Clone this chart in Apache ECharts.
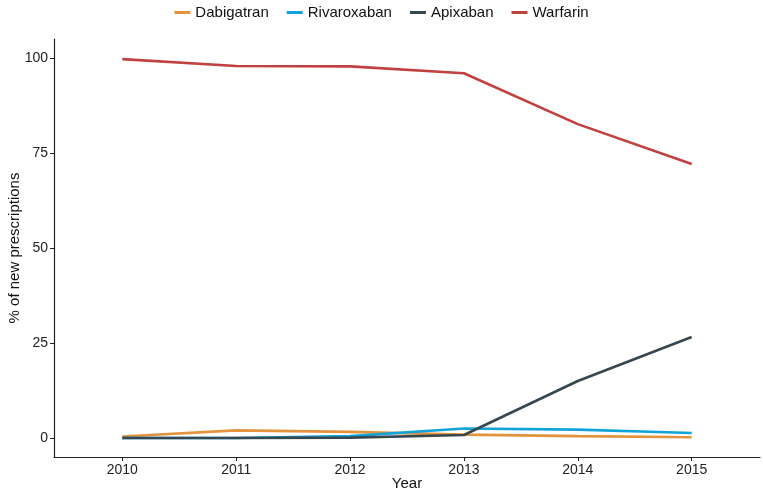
<!DOCTYPE html>
<html><head><meta charset="utf-8">
<script src="https://cdn.jsdelivr.net/npm/echarts@6/dist/echarts.min.js"></script>
<style>html,body{margin:0;padding:0;background:#fff}#c{width:763px;height:494px}</style>
</head><body><div id="c"></div>
<script>
const years = [2010, 2011, 2012, 2013, 2014, 2015];
const dabigatran = [0.4, 2.0, 1.6, 0.9, 0.5, 0.2];
const rivaroxaban = [0.0, 0.0, 0.5, 2.5, 2.2, 1.3];
const apixaban = [0.0, 0.0, 0.1, 0.8, 15.0, 26.6];
const warfarin = [99.7, 97.9, 97.8, 96.0, 82.6, 72.1];
const yTicks = [0, 25, 50, 75, 100];
const seriesNames = ['Dabigatran', 'Rivaroxaban', 'Apixaban', 'Warfarin'];
const colors = ['#E3923D', '#12A4D9', '#37474F', '#C0413F'];
const allData = [dabigatran, rivaroxaban, apixaban, warfarin];

const chart = echarts.init(document.getElementById('c'));
const font = 'Liberation Sans, Arial, sans-serif';
chart.setOption({
  animation: false,
  color: colors,
  legend: {
    top: 0, left: 'center', itemWidth: 16, itemHeight: 3, itemGap: 18,
    icon: 'rect',
    textStyle: { fontFamily: font, fontSize: 15, color: '#111' },
    data: seriesNames
  },
  grid: { left: 54, right: 3, top: 39, bottom: 37, containLabel: false, outerBoundsMode: 'none' },
  xAxis: {
    type: 'value', min: 2009.4, max: 2015.6,
    name: 'Year', nameLocation: 'middle', nameGap: 19, nameMoveOverlap: false,
    nameTextStyle: { fontFamily: font, fontSize: 15, color: '#111' },
    axisLine: { show: true, onZero: false, lineStyle: { color: '#222', width: 1.2 } },
    axisTick: { show: true, customValues: years, length: 4, lineStyle: { color: '#222' } },
    axisLabel: { customValues: years, formatter: v => String(v), fontFamily: font, fontSize: 14, color: '#222', margin: 6 },
    splitLine: { show: false }
  },
  yAxis: {
    type: 'value', min: -5, max: 105,
    name: '% of new prescriptions', nameLocation: 'middle', nameGap: 32, nameMoveOverlap: false,
    nameTextStyle: { fontFamily: font, fontSize: 15, color: '#111' },
    axisLine: { show: true, onZero: false, lineStyle: { color: '#222', width: 1.2 } },
    axisTick: { show: true, customValues: yTicks, length: 4, lineStyle: { color: '#222' } },
    axisLabel: { customValues: yTicks, fontFamily: font, fontSize: 14, color: '#222', margin: 6 },
    splitLine: { show: false }
  },
  series: seriesNames.map((n, i) => ({
    name: n, type: 'line', showSymbol: false, symbol: 'none',
    lineStyle: { width: 2.6, color: colors[i] },
    data: years.map((y, j) => [y, allData[i][j]])
  }))
});
</script></body></html>
